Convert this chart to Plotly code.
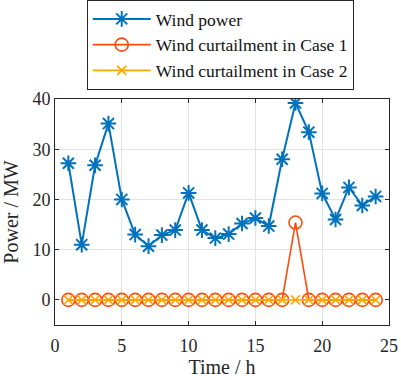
import plotly.graph_objects as go

hours = list(range(1, 25))
wind_power = [27.2, 11.0, 26.8, 35.1, 20.0, 13.0, 10.7, 12.9, 13.9, 21.3, 13.9, 12.3,
              13.1, 15.2, 16.3, 14.7, 28.0, 39.2, 33.4, 21.2, 16.0, 22.4, 18.8, 20.6]
curt_case1 = [0]*17 + [15.4] + [0]*6
curt_case2 = [0]*24

x_ticks = [0, 5, 10, 15, 20, 25]
y_ticks = [0, 10, 20, 30, 40]

FONT = "Liberation Serif"

fig = go.Figure()
fig.add_trace(go.Scatter(x=hours, y=wind_power, mode="lines+markers", name="Wind power",
                         line=dict(color="#0072BD", width=2),
                         marker=dict(symbol="asterisk-open", size=13,
                                     line=dict(color="#0072BD", width=2))))
fig.add_trace(go.Scatter(x=hours, y=curt_case1, mode="lines+markers", name="Wind curtailment in Case 1",
                         line=dict(color="#FF4A0A", width=1.6),
                         marker=dict(symbol="circle-open", size=13,
                                     line=dict(color="#FF4A0A", width=1.6))))
fig.add_trace(go.Scatter(x=hours, y=curt_case2, mode="lines+markers", name="Wind curtailment in Case 2",
                         line=dict(color="#FFA800", width=1.6),
                         marker=dict(symbol="x-thin-open", size=9,
                                     line=dict(color="#FFA800", width=1.6))))

axis_common = dict(showline=True, linecolor="#262626", linewidth=1, mirror="ticks",
                   ticks="inside", ticklen=4, tickcolor="#262626",
                   showgrid=True, gridcolor="#E3E3E3", gridwidth=1, zeroline=False,
                   automargin=False, ticklabeloverflow="allow",
                   tickfont=dict(family=FONT, size=18, color="#262626"))

fig.update_xaxes(range=[0, 25], tickvals=x_ticks, ticklabelstandoff=4,
                 title=dict(text="Time / h", font=dict(family=FONT, size=20, color="#262626"), standoff=4),
                 **axis_common)
fig.update_yaxes(range=[-5, 40], tickvals=y_ticks,
                 title=dict(text="Power / MW", font=dict(family=FONT, size=20, color="#262626"), standoff=10),
                 **axis_common)

fig.update_layout(
    width=401, height=380,
    margin=dict(l=55, r=12, t=99, b=55, autoexpand=False),
    paper_bgcolor="white", plot_bgcolor="white",
    font=dict(family=FONT, size=17, color="#262626"),
    legend=dict(x=0.095, y=1.438, xanchor="left", yanchor="top",
                bgcolor="white", bordercolor="#262626", borderwidth=1,
                font=dict(family=FONT, size=17.5, color="#111111"),
                tracegroupgap=0, itemwidth=58),
    showlegend=True,
)

fig.write_html("out.html", config={"displayModeBar": False},
               post_script="document.body.style.margin='0';document.body.style.padding='0';")
